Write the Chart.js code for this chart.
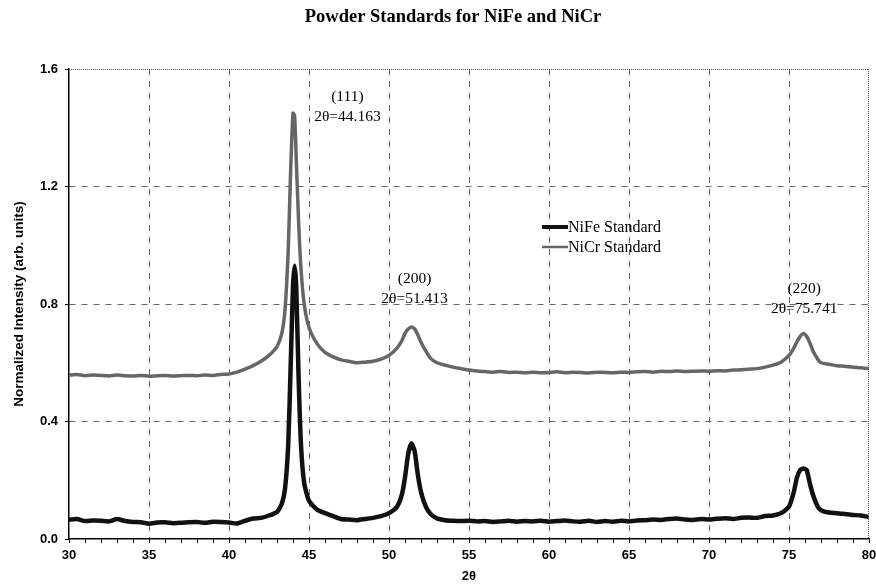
<!DOCTYPE html>
<html>
<head>
<meta charset="utf-8">
<title>Powder Standards for NiFe and NiCr</title>
<script src="https://cdn.jsdelivr.net/npm/chart.js@4.4.1/dist/chart.umd.min.js"></script>
<style>
  html, body { margin: 0; padding: 0; background: #fff; }
  #wrap { position: relative; width: 876px; height: 584px; }
</style>
</head>
<body>
<div id="wrap"><canvas id="xrd"></canvas></div>
<script>
// 2-theta positions (deg), shared by both scans
const twoTheta = [
  30, 30.5, 31, 31.5, 32, 32.5, 33, 33.5, 34, 34.5, 35, 35.5, 36, 36.5, 37, 37.5, 38, 38.5, 39, 39.5, 40, 40.5, 41, 41.5, 42,
  42.5, 43, 43.3, 43.5, 43.7, 43.85, 44, 44.1, 44.2, 44.35, 44.5, 44.7, 45,
  45.5, 46, 46.5, 47, 47.5, 48, 48.5, 49, 49.5, 50, 50.5,
  50.8, 51, 51.2, 51.4, 51.6, 51.8, 52, 52.3, 52.6, 53,
  53.5, 54, 54.5, 55, 55.5, 56, 56.5, 57, 57.5, 58, 58.5, 59, 59.5, 60, 60.5, 61, 61.5, 62, 62.5, 63,
  63.5, 64, 64.5, 65, 65.5, 66, 66.5, 67, 67.5, 68, 68.5, 69, 69.5, 70, 70.5, 71, 71.5, 72, 72.5, 73,
  73.5, 74, 74.5,
  75, 75.3, 75.5, 75.7, 75.9, 76.1, 76.3, 76.5, 76.8, 77,
  77.5, 78, 78.5, 79, 79.5, 80
];

const nifeStd = [
  0.066, 0.068, 0.061, 0.063, 0.062, 0.060, 0.068, 0.061, 0.058, 0.057, 0.052, 0.056, 0.057, 0.054, 0.055, 0.057, 0.058, 0.055, 0.059, 0.058, 0.056, 0.053, 0.062, 0.070, 0.072,
  0.080, 0.092, 0.12, 0.17, 0.32, 0.58, 0.86, 0.93, 0.86, 0.55, 0.32, 0.19, 0.13,
  0.10, 0.088, 0.078, 0.068, 0.066, 0.064, 0.068, 0.072, 0.078, 0.088, 0.11,
  0.15, 0.21, 0.29, 0.325, 0.30, 0.22, 0.16, 0.11, 0.085, 0.07,
  0.064, 0.062, 0.061, 0.062, 0.060, 0.061, 0.058, 0.060, 0.062, 0.059, 0.061, 0.060, 0.062, 0.059, 0.061, 0.063, 0.060, 0.059, 0.062, 0.058,
  0.061, 0.059, 0.062, 0.060, 0.063, 0.064, 0.066, 0.065, 0.068, 0.070, 0.066, 0.065, 0.068, 0.066, 0.069, 0.071, 0.068, 0.072, 0.073, 0.072,
  0.078, 0.080, 0.088,
  0.11, 0.16, 0.21, 0.235, 0.24, 0.235, 0.19, 0.15, 0.11, 0.098,
  0.09, 0.088, 0.085, 0.082, 0.080, 0.075
];

const nicrStd = [
  0.558, 0.560, 0.556, 0.558, 0.557, 0.555, 0.558, 0.556, 0.555, 0.557, 0.554, 0.556, 0.557, 0.555, 0.556, 0.557, 0.556, 0.558, 0.557, 0.560, 0.562, 0.568, 0.578, 0.590, 0.605,
  0.625, 0.655, 0.70, 0.78, 0.98, 1.25, 1.45, 1.44, 1.30, 1.08, 0.92, 0.80, 0.72,
  0.665, 0.635, 0.62, 0.61, 0.605, 0.60, 0.602, 0.605, 0.612, 0.625, 0.65,
  0.675, 0.70, 0.715, 0.722, 0.715, 0.695, 0.67, 0.64, 0.615, 0.60,
  0.592, 0.585, 0.580, 0.575, 0.572, 0.570, 0.568, 0.570, 0.567, 0.568, 0.566, 0.568, 0.566, 0.567, 0.569, 0.566, 0.568, 0.567, 0.565, 0.568,
  0.567, 0.566, 0.568, 0.567, 0.569, 0.570, 0.568, 0.571, 0.570, 0.572, 0.570, 0.571, 0.572, 0.571, 0.573, 0.572, 0.575, 0.576, 0.578, 0.580,
  0.585, 0.592, 0.602,
  0.625, 0.65, 0.672, 0.69, 0.70, 0.69, 0.668, 0.64, 0.612, 0.60,
  0.595, 0.59, 0.588, 0.585, 0.583, 0.58
];

const seriesNames = ['NiFe Standard', 'NiCr Standard'];

// peak labels: [hkl, 2theta text, x position, y position in data units]
const peakLabels = [
  ['(111)', '2\u03b8=44.163', 47.4, 1.505],
  ['(200)', '2\u03b8=51.413', 51.6, 0.885],
  ['(220)', '2\u03b8=75.741', 75.95, 0.852]
];

const xTickMin = 30, xTickMax = 80;
const yTickMin = 0, yTickMax = 1.6, yStep = 0.4;

const serif = '"Liberation Serif", "Times New Roman", serif';
const sans = '"Liberation Sans", Arial, sans-serif';

const toPoints = vals => twoTheta.map((x, i) => ({ x: x, y: vals[i] }));

// draws title, peak labels, legend and the dotted top/right frame
const decorations = {
  id: 'decorations',
  afterDraw(chart) {
    const { ctx, chartArea, scales } = chart;
    const xs = scales.x, ys = scales.y;
    ctx.save();

    // dotted frame top + right
    ctx.strokeStyle = '#555';
    ctx.lineWidth = 1;
    ctx.setLineDash([1, 1]);
    ctx.beginPath();
    ctx.moveTo(chartArea.left, chartArea.top + 0.5);
    ctx.lineTo(chartArea.right, chartArea.top + 0.5);
    ctx.moveTo(chartArea.right - 0.5, chartArea.top);
    ctx.lineTo(chartArea.right - 0.5, chartArea.bottom);
    ctx.stroke();
    ctx.setLineDash([]);

    // title
    ctx.fillStyle = '#000';
    ctx.textAlign = 'center';
    ctx.textBaseline = 'middle';
    ctx.font = 'bold 18.5px ' + serif;
    ctx.fillText('Powder Standards for NiFe and NiCr', 453, 17);

    // peak annotations
    ctx.font = '15.5px ' + serif;
    peakLabels.forEach(p => {
      const px = xs.getPixelForValue(p[2]);
      const py = ys.getPixelForValue(p[3]);
      ctx.fillText(p[0], px, py);
      ctx.fillText(p[1], px, py + 20);
    });

    // legend
    const lx = 542, ly = 227;
    ctx.textAlign = 'left';
    ctx.font = '16px ' + serif;
    const legendStyles = [['#111', 4], ['#666', 2.5]];
    seriesNames.forEach((name, i) => {
      const y = ly + i * 20;
      ctx.strokeStyle = legendStyles[i][0];
      ctx.lineWidth = legendStyles[i][1];
      ctx.beginPath();
      ctx.moveTo(lx, y);
      ctx.lineTo(lx + 26, y);
      ctx.stroke();
      ctx.fillText(name, lx + 26, y + 1);
    });

    ctx.restore();
  }
};

const ctx = document.getElementById('xrd').getContext('2d');
new Chart(ctx, {
  type: 'line',
  data: {
    datasets: [
      {
        label: seriesNames[0],
        data: toPoints(nifeStd),
        borderColor: '#111',
        borderWidth: 4.5,
        pointRadius: 0,
        tension: 0.2,
        fill: false
      },
      {
        label: seriesNames[1],
        data: toPoints(nicrStd),
        borderColor: '#666',
        borderWidth: 3.5,
        pointRadius: 0,
        tension: 0.2,
        fill: false
      }
    ]
  },
  options: {
    responsive: true,
    maintainAspectRatio: false,
    animation: false,
    layout: { padding: { left: 0, right: 7, top: 69, bottom: 0 } },
    plugins: {
      legend: { display: false },
      title: { display: false },
      tooltip: { enabled: false }
    },
    scales: {
      x: {
        type: 'linear',
        min: xTickMin,
        max: xTickMax,
        afterFit: s => { s.height = 45; s.paddingLeft = 0; s.paddingRight = 0; },
        ticks: {
          stepSize: 1,
          autoSkip: false,
          maxRotation: 0,
          padding: 5,
          color: '#000',
          font: { family: sans, size: 13, weight: 'bold' },
          callback: v => (v % 5 === 0 ? String(v) : '')
        },
        grid: {
          color: c => {
            const v = c.tick && c.tick.value;
            return (v % 5 === 0 && v !== xTickMin && v !== xTickMax) ? '#666' : 'rgba(0,0,0,0)';
          },
          tickColor: '#000',
          tickLength: 4,
          tickBorderDash: [],
          lineWidth: 1
        },
        border: { display: true, color: '#000', width: 1.5, dash: [6, 6] },
        title: {
          display: true,
          text: '2\u03b8',
          color: '#000',
          font: { family: sans, size: 13, weight: 'bold' },
          padding: { top: 4, bottom: 0 }
        }
      },
      y: {
        min: yTickMin,
        max: yTickMax,
        afterFit: s => { s.width = 69; s.paddingTop = 0; s.paddingBottom = 0; },
        ticks: {
          stepSize: yStep,
          padding: 7,
          color: '#000',
          font: { family: sans, size: 13, weight: 'bold' },
          callback: v => Number(v).toFixed(1)
        },
        grid: {
          color: c => {
            const v = c.tick && c.tick.value;
            return (v > 0.01 && v < yTickMax - 0.01) ? '#666' : 'rgba(0,0,0,0)';
          },
          tickColor: '#000',
          tickLength: 4,
          tickBorderDash: [],
          lineWidth: 1
        },
        border: { display: true, color: '#000', width: 1.5, dash: [6, 6] },
        title: {
          display: true,
          text: 'Normalized Intensity (arb. units)',
          color: '#000',
          font: { family: sans, size: 13.5, weight: 'bold' },
          padding: { top: 11, bottom: 0 }
        }
      }
    }
  },
  plugins: [decorations]
});
</script>
</body>
</html>
